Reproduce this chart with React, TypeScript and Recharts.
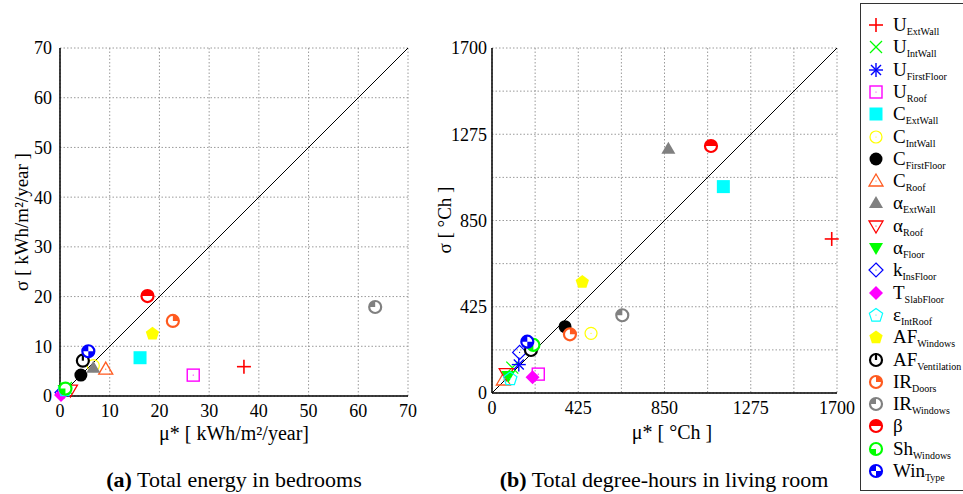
import { ScatterChart, Scatter, XAxis, YAxis, CartesianGrid, ReferenceLine } from "recharts";

// parameter names: main symbol + subscript
const paramMain = ["U", "U", "U", "U", "C", "C", "C", "C", "α", "α", "α", "k", "T", "ε", "AF", "AF", "IR", "IR", "β", "Sh", "Win"];
const paramSub = ["ExtWall", "IntWall", "FirstFloor", "Roof", "ExtWall", "IntWall", "FirstFloor", "Roof", "ExtWall", "Roof", "Floor", "InsFloor", "SlabFloor", "IntRoof", "Windows", "Ventilation", "Doors", "Windows", "", "Windows", "Type"];

// (a) total energy in bedrooms [kWh/m2/year]
const energyMu = [37.0, 1.2, 0.8, 26.8, 16.1, 6.7, 4.2, 9.2, 6.7, 2.1, 0.9, 0.4, 0.2, 1.0, 18.6, 4.6, 22.7, 63.4, 17.6, 1.1, 5.7];
const energySigma = [5.9, 1.6, 0.9, 4.2, 7.7, 6.1, 4.2, 5.4, 5.7, 1.2, 1.2, 0.7, 0.2, 1.3, 12.6, 7.1, 15.1, 17.9, 20.1, 1.5, 9.0];

// (b) total degree-hours in living room [°Ch]
const degreeMu = [1674, 100, 132, 228, 1140, 488, 360, 56, 869, 70, 80, 136, 200, 90, 445, 192, 384, 642, 1079, 204, 174];
const degreeSigma = [759, 125, 140, 93, 1017, 294, 327, 64, 1203, 95, 84, 200, 77, 72, 549, 212, 289, 383, 1217, 237, 253];

const energyTicks = [0, 10, 20, 30, 40, 50, 60, 70];
const degreeTicks = [0, 212.5, 425, 637.5, 850, 1062.5, 1275, 1487.5, 1700];
const degreeLabels = [0, 425, 850, 1275, 1700];

const markerKinds = ["plus", "cross", "star", "squareOpen", "squareFilled", "circleOpen", "circleFilled", "triOpen", "triFilled", "triDownOpen", "triDownFilled", "diamondOpen", "diamondFilled", "pentOpen", "pentFilled", "vent", "qTR", "qTL", "half", "qBL", "qTLBR"];
const markerColors = ["#ff0000", "#00ff00", "#0000ff", "#ff00ff", "#00ffff", "#ffff00", "#000000", "#ff5a1f", "#808080", "#ff0000", "#00ff00", "#0000ff", "#ff00ff", "#00ffff", "#ffff00", "#000000", "#ff5a1f", "#808080", "#ff0000", "#00ff00", "#0000ff"];

const FONT = "Liberation Serif, serif";

function pts(cx: number, cy: number, list: number[][]) {
  return list.map(([a, b]) => `${cx + a},${cy + b}`).join(" ");
}

function Marker({ kind, color, cx, cy }: { kind: string; color: string; cx: number; cy: number }) {
  const r = 6;
  const dot = <circle cx={cx} cy={cy} r={0.6} fill={color} />;
  switch (kind) {
    case "plus":
      return (
        <g stroke={color} strokeWidth={1.6}>
          <line x1={cx - 7} y1={cy} x2={cx + 7} y2={cy} />
          <line x1={cx} y1={cy - 7} x2={cx} y2={cy + 7} />
        </g>
      );
    case "cross":
      return (
        <g stroke={color} strokeWidth={1.2}>
          <line x1={cx - 6} y1={cy - 6} x2={cx + 6} y2={cy + 6} />
          <line x1={cx - 6} y1={cy + 6} x2={cx + 6} y2={cy - 6} />
        </g>
      );
    case "star":
      return (
        <g stroke={color} strokeWidth={1.4}>
          <line x1={cx - 7} y1={cy} x2={cx + 7} y2={cy} />
          <line x1={cx} y1={cy - 7} x2={cx} y2={cy + 7} />
          <line x1={cx - 5} y1={cy - 5} x2={cx + 5} y2={cy + 5} />
          <line x1={cx - 5} y1={cy + 5} x2={cx + 5} y2={cy - 5} />
        </g>
      );
    case "squareOpen":
      return (
        <g>
          <rect x={cx - 6} y={cy - 6} width={12} height={12} fill="none" stroke={color} strokeWidth={1.4} />
          {dot}
        </g>
      );
    case "squareFilled":
      return <rect x={cx - 6.5} y={cy - 6.5} width={13} height={13} fill={color} />;
    case "circleOpen":
      return (
        <g>
          <circle cx={cx} cy={cy} r={r} fill="none" stroke={color} strokeWidth={1.2} />
          {dot}
        </g>
      );
    case "circleFilled":
      return <circle cx={cx} cy={cy} r={6.5} fill={color} />;
    case "triOpen":
      return (
        <g>
          <polygon points={pts(cx, cy, [[0, -7], [7, 5], [-7, 5]])} fill="none" stroke={color} strokeWidth={1.3} />
          {dot}
        </g>
      );
    case "triFilled":
      return <polygon points={pts(cx, cy, [[0, -7], [7, 5], [-7, 5]])} fill={color} />;
    case "triDownOpen":
      return (
        <g>
          <polygon points={pts(cx, cy, [[0, 7], [7, -5], [-7, -5]])} fill="none" stroke={color} strokeWidth={1.3} />
          {dot}
        </g>
      );
    case "triDownFilled":
      return <polygon points={pts(cx, cy, [[0, 7], [7, -5], [-7, -5]])} fill={color} />;
    case "diamondOpen":
      return (
        <g>
          <polygon points={pts(cx, cy, [[0, -7], [7, 0], [0, 7], [-7, 0]])} fill="none" stroke={color} strokeWidth={1.2} />
          {dot}
        </g>
      );
    case "diamondFilled":
      return <polygon points={pts(cx, cy, [[0, -7], [7, 0], [0, 7], [-7, 0]])} fill={color} />;
    case "pentOpen":
    case "pentFilled": {
      const p: number[][] = [];
      for (let k = 0; k < 5; k++) {
        const a = -Math.PI / 2 + (k * 2 * Math.PI) / 5;
        p.push([7 * Math.cos(a), 7 * Math.sin(a) + 0.5]);
      }
      return kind === "pentOpen" ? (
        <g>
          <polygon points={pts(cx, cy, p)} fill="none" stroke={color} strokeWidth={1.2} />
          {dot}
        </g>
      ) : (
        <polygon points={pts(cx, cy, p)} fill={color} />
      );
    }
    case "vent":
      return (
        <g>
          <circle cx={cx} cy={cy} r={r} fill="#fff" stroke={color} strokeWidth={2.2} />
          <line x1={cx} y1={cy - r - 1} x2={cx} y2={cy} stroke={color} strokeWidth={2.2} />
        </g>
      );
    default: {
      const wedges: string[] = [];
      if (kind === "qTR") wedges.push(`M${cx},${cy} L${cx},${cy - r} A${r},${r} 0 0 1 ${cx + r},${cy} Z`);
      if (kind === "qTL" || kind === "qTLBR") wedges.push(`M${cx},${cy} L${cx - r},${cy} A${r},${r} 0 0 1 ${cx},${cy - r} Z`);
      if (kind === "qTLBR") wedges.push(`M${cx},${cy} L${cx + r},${cy} A${r},${r} 0 0 1 ${cx},${cy + r} Z`);
      if (kind === "qBL") wedges.push(`M${cx},${cy} L${cx},${cy + r} A${r},${r} 0 0 1 ${cx - r},${cy} Z`);
      if (kind === "half") wedges.push(`M${cx - r},${cy} A${r},${r} 0 0 1 ${cx + r},${cy} Z`);
      return (
        <g>
          <circle cx={cx} cy={cy} r={r} fill="#fff" />
          {wedges.map((d, k) => (
            <path key={k} d={d} fill={color} />
          ))}
          <circle cx={cx} cy={cy} r={r} fill="none" stroke={color} strokeWidth={2.2} />
        </g>
      );
    }
  }
}

type PanelProps = {
  mu: number[];
  sigma: number[];
  max: number;
  ticks: number[];
  labelTicks: number[];
  margin: { top: number; right: number; bottom: number; left: number };
  yTickSize: number;
};

function Panel({ mu, sigma, max, ticks, labelTicks, margin, yTickSize }: PanelProps) {
  const tickStyle = { fill: "#000", fontSize: 18, fontFamily: FONT };
  const fmt = (v: number) => (labelTicks.includes(v) ? String(v) : "");
  return (
    <ScatterChart width={430} height={494} margin={margin} style={{ fontFamily: FONT }}>
      <CartesianGrid stroke="#9a9a9a" strokeDasharray="1.5 2" />
      <XAxis
        type="number"
        dataKey="x"
        domain={[0, max]}
        ticks={ticks}
        tickFormatter={fmt}
        interval={0}
        height={50}
        tick={tickStyle}
        tickLine={false}
        axisLine={{ stroke: "#000", strokeWidth: 1.5 }}
      />
      <XAxis xAxisId="top" orientation="top" type="number" domain={[0, max]} height={0} tick={false} tickLine={false} axisLine={{ stroke: "#000", strokeWidth: 1.5 }} />
      <YAxis
        type="number"
        dataKey="y"
        domain={[0, max]}
        ticks={ticks}
        tickFormatter={fmt}
        interval={0}
        width={50}
        tick={tickStyle}
        tickLine={false}
        tickSize={yTickSize}
        axisLine={{ stroke: "#000", strokeWidth: 1.5 }}
      />
      <YAxis yAxisId="right" orientation="right" type="number" domain={[0, max]} width={0} tick={false} tickLine={false} axisLine={{ stroke: "#000", strokeWidth: 1.5 }} />
      <ReferenceLine segment={[{ x: 0, y: 0 }, { x: max, y: max }]} stroke="#000" strokeWidth={1} />
      {paramMain.map((_, i) => (
        <Scatter
          key={i}
          data={[{ x: mu[i], y: sigma[i] }]}
          isAnimationActive={false}
          shape={(p: any) => <Marker kind={markerKinds[i]} color={markerColors[i]} cx={p.cx} cy={p.cy} />}
        />
      ))}
    </ScatterChart>
  );
}

export default function App() {
  const txt = { fontFamily: FONT, fill: "#000" };
  return (
    <div style={{ position: "absolute", left: 0, top: 0, width: 963, height: 494, overflow: "hidden", background: "#fff", fontFamily: FONT }}>
      <div style={{ position: "absolute", left: 0, top: 0 }}>
        <Panel mu={energyMu} sigma={energySigma} max={70} ticks={energyTicks} labelTicks={energyTicks} margin={{ top: 48, right: 22, bottom: 48, left: 10 }} yTickSize={6} />
      </div>
      <div style={{ position: "absolute", left: 430, top: 0 }}>
        <Panel mu={degreeMu} sigma={degreeSigma} max={1700} ticks={degreeTicks} labelTicks={degreeLabels} margin={{ top: 48, right: 23, bottom: 51, left: 12 }} yTickSize={3} />
      </div>
      <svg width={963} height={494} style={{ position: "absolute", left: 0, top: 0, pointerEvents: "none" }}>
        <text {...txt} x={21} y={222} fontSize={19} textAnchor="middle" dominantBaseline="central" transform="rotate(-90 21 222)">
          σ [ kWh/m²/year ]
        </text>
        <text {...txt} x={234} y={433} fontSize={20} textAnchor="middle" dominantBaseline="central">
          μ* [ kWh/m²/year]
        </text>
        <text {...txt} x={234} y={479} fontSize={22} textAnchor="middle" dominantBaseline="central">
          <tspan fontWeight="bold">(a)</tspan> Total energy in bedrooms
        </text>
        <text {...txt} x={444} y={220} fontSize={19} textAnchor="middle" dominantBaseline="central" transform="rotate(-90 444 220)">
          σ [ °Ch ]
        </text>
        <text {...txt} x={672} y={432} fontSize={20} textAnchor="middle" dominantBaseline="central">
          μ* [ °Ch ]
        </text>
        <text {...txt} x={664} y={479} fontSize={22} textAnchor="middle" dominantBaseline="central">
          <tspan fontWeight="bold">(b)</tspan> Total degree-hours in living room
        </text>
      </svg>
      <div style={{ position: "absolute", left: 860, top: 3, width: 112, height: 486, border: "1.5px solid #333", background: "#fff" }}>
        {paramMain.map((m, i) => (
          <div key={i} style={{ position: "absolute", left: 0, top: 24 + 22.3 * i - 3 - 11, height: 22, display: "flex", alignItems: "center", whiteSpace: "nowrap" }}>
            <svg width={32} height={22}>
              <Marker kind={markerKinds[i]} color={markerColors[i]} cx={15} cy={11} />
            </svg>
            <span style={{ fontSize: 19, lineHeight: "22px" }}>
              {m}
              <sub style={{ fontSize: 10, verticalAlign: -4, lineHeight: 0 }}>{paramSub[i]}</sub>
            </span>
          </div>
        ))}
      </div>
    </div>
  );
}
